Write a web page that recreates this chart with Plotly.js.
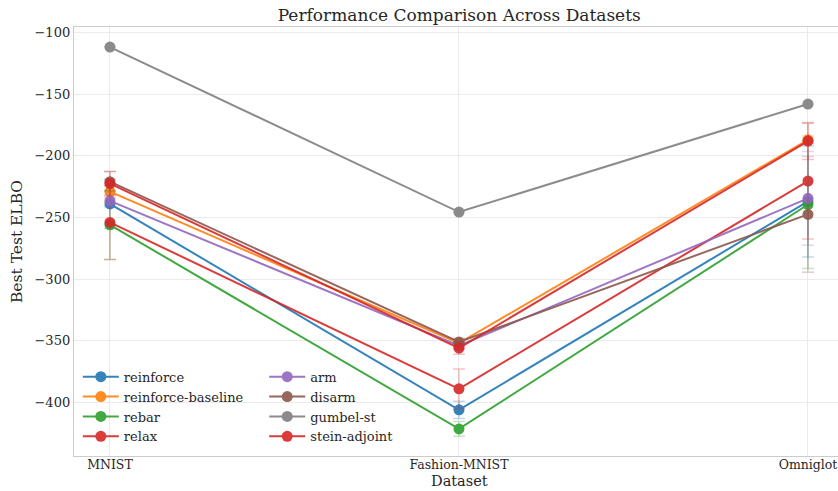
<!DOCTYPE html>
<html>
<head>
<meta charset="utf-8">
<script src="https://cdn.plot.ly/plotly-3.0.1.min.js"></script>
<style>html,body{margin:0;padding:0;background:#fff;}#chart{width:838px;height:491px;}</style>
</head>
<body>
<div id="chart"></div>
<script>
const datasets = ["MNIST", "Fashion-MNIST", "Omniglot"];
const methods = ["reinforce", "reinforce-baseline", "rebar", "relax", "arm", "disarm", "gumbel-st", "stein-adjoint"];
const colors = ["#1f77b4", "#ff7f0e", "#2ca02c", "#d62728", "#9467bd", "#8c564b", "#7f7f7f", "#d62728"];
const reinforce = [-239, -406, -237];
const reinforceBaseline = [-229, -352, -187];
const rebar = [-256, -421.5, -239.5];
const relax = [-254, -389, -220.5];
const arm = [-236.5, -354, -234.5];
const disarm = [-221, -351, -247.5];
const gumbelSt = [-111.8, -245.6, -158];
const steinAdjoint = [-222.5, -356, -188];
const reinforceErr = [20, 7, 45];
const reinforceBaselineErr = [5, 3, 3];
const rebarErr = [28, 6, 52];
const relaxErr = [30, 16, 47];
const armErr = [5, 3, 38];
const disarmErr = [8, 3, 47];
const gumbelStErr = [0, 0, 0];
const steinAdjointErr = [10, 5, 15];
const values = [reinforce, reinforceBaseline, rebar, relax, arm, disarm, gumbelSt, steinAdjoint];
const errors = [reinforceErr, reinforceBaselineErr, rebarErr, relaxErr, armErr, disarmErr, gumbelStErr, steinAdjointErr];
const legendColumn = ["legend", "legend", "legend", "legend", "legend2", "legend2", "legend2", "legend2"];
const xTitle = "Dataset";

function rgba(hex, a) {
  const r = parseInt(hex.slice(1,3),16), g = parseInt(hex.slice(3,5),16), b = parseInt(hex.slice(5,7),16);
  return `rgba(${r},${g},${b},${a})`;
}

const traces = methods.map((m, i) => ({
  type: 'scatter',
  mode: 'lines+markers',
  name: m,
  x: datasets,
  y: values[i],
  legend: legendColumn[i],
  opacity: 0.9,
  line: {color: colors[i], width: 2},
  marker: {color: colors[i], size: 11},
  error_y: {type: 'data', array: errors[i], visible: true, color: rgba(colors[i], 0.3), thickness: 1.5, width: 6}
}));

const serif = '"DejaVu Serif", serif';
const legendBase = {
  orientation: 'v', yanchor: 'bottom', xanchor: 'left',
  bgcolor: 'rgba(255,255,255,0)', borderwidth: 0, itemwidth: 36,
  font: {family: serif, size: 13, color: '#262626'},
  traceorder: 'normal', tracegroupgap: 0
};
const layout = {
  width: 838, height: 491,
  margin: {l: 74, r: 0, t: 27, b: 35},
  paper_bgcolor: '#ffffff', plot_bgcolor: '#ffffff',
  font: {family: serif, color: '#262626', size: 13},
  title: {text: 'Performance Comparison Across Datasets', font: {family: serif, size: 17, color: '#262626'}, xref: 'container', x: 0.548, xanchor: 'center', y: 0.97, yanchor: 'middle'},
  xaxis: {
    type: 'category', range: [-0.103, 2.086],
    showgrid: true, gridcolor: '#ebebeb', gridwidth: 1,
    showline: true, linecolor: '#cccccc', linewidth: 1.2, mirror: true,
    ticks: '', zeroline: false, ticklabelstandoff: -3,
    tickfont: {family: serif, size: 12.5, color: '#262626'}
  },
  yaxis: {
    range: [-443.5, -95.5],
    tickvals: [-400, -350, -300, -250, -200, -150, -100],
    showgrid: true, gridcolor: '#ebebeb', gridwidth: 1,
    showline: true, linecolor: '#cccccc', linewidth: 1.2,
    ticks: '', zeroline: false,
    tickfont: {family: serif, size: 13, color: '#262626'},
    title: {text: 'Best Test ELBO', font: {family: serif, size: 15.5, color: '#262626'}, standoff: 8}
  },
  annotations: [{
    text: xTitle, xref: 'paper', yref: 'paper', x: (459 - 74) / 764, y: -25.5 / 429,
    xanchor: 'center', yanchor: 'middle', showarrow: false, borderpad: 0,
    font: {family: serif, size: 14.5, color: '#262626'}
  }],
  legend: Object.assign({}, legendBase, {x: 0.005, y: 0.01}),
  legend2: Object.assign({}, legendBase, {x: 0.249, y: 0.01}),
  showlegend: true
};

Plotly.newPlot('chart', traces, layout, {displayModeBar: false, staticPlot: true});
</script>
</body>
</html>
